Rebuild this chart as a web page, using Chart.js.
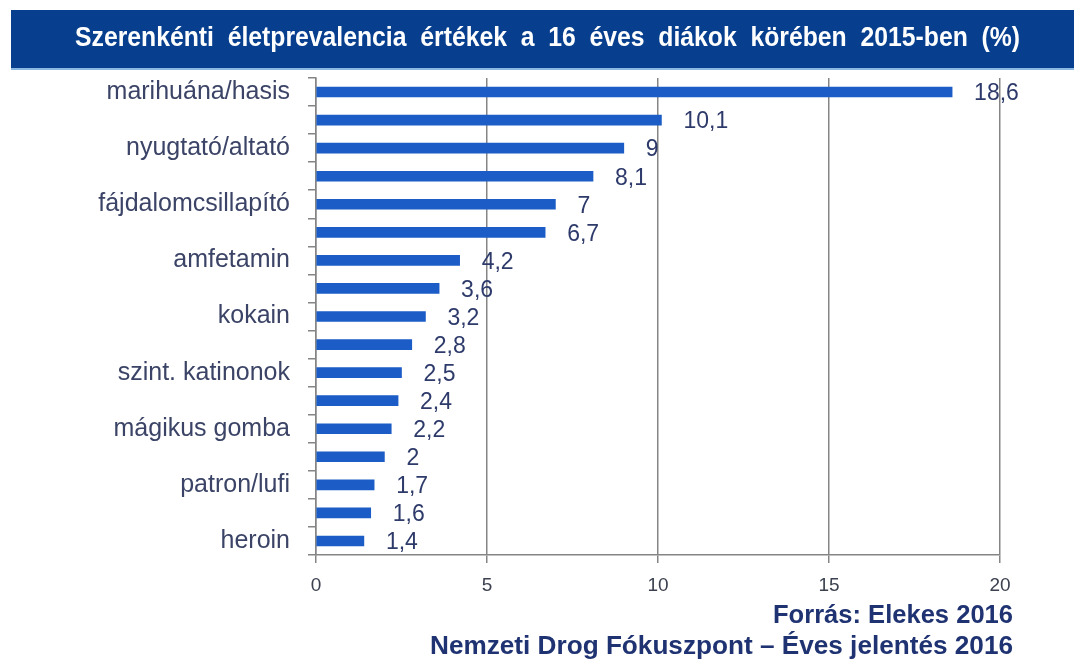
<!DOCTYPE html>
<html>
<head>
<meta charset="utf-8">
<script src="https://cdn.jsdelivr.net/npm/chart.js@4"></script>
<style>
  html, body { margin: 0; padding: 0; background: #fff; }
  #wrap { width: 1074px; height: 664px; position: relative; }
</style>
</head>
<body>
<div id="wrap"><canvas id="chart" width="1074" height="664"></canvas></div>
<script>
// data (every second label is not shown in the original)
const categories = [
    'marihuána/hasis', '', 'nyugtató/altató', '', 'fájdalomcsillapító', '',
    'amfetamin', '', 'kokain', '', 'szint. katinonok', '', 'mágikus gomba', '',
    'patron/lufi', '', 'heroin'
];
const values = [18.6, 10.1, 9, 8.1, 7, 6.7, 4.2, 3.6, 3.2, 2.8, 2.5, 2.4, 2.2, 2, 1.7, 1.6, 1.4];
const xTicks = [0, 5, 10, 15, 20];

const titleText = 'Szerenkénti  életprevalencia  értékek  a  16  éves  diákok  körében  2015-ben  (%)';
const sourceLines = ['Forrás: Elekes 2016', 'Nemzeti Drog Fókuszpont – Éves jelentés 2016'];

const FONT = 'Arial, "Liberation Sans", sans-serif';
const fmt = v => String(v).replace('.', ',');

// draw text squeezed/stretched horizontally to a given width
function fillFit(ctx, text, x, y, width, align) {
    const w = ctx.measureText(text).width;
    const k = width / w;
    ctx.save();
    ctx.translate(x, y);
    ctx.scale(k, 1);
    ctx.textAlign = align;
    ctx.fillText(text, 0, 0);
    ctx.restore();
}

const decorPlugin = {
    id: 'decor',
    beforeDraw(chart) {
        const ctx = chart.ctx;
        ctx.save();
        // title bar
        ctx.fillStyle = '#073f8e';
        ctx.fillRect(11, 10, chart.width - 11, 58);
        ctx.fillStyle = '#8bb8e3';
        ctx.fillRect(11, 68, chart.width - 11, 2);
        ctx.font = 'bold 27px ' + FONT;
        ctx.fillStyle = '#ffffff';
        ctx.textBaseline = 'middle';
        fillFit(ctx, titleText, 75, 39, 945, 'left');
        ctx.restore();
    },
    afterDatasetsDraw(chart) {
        const ctx = chart.ctx;
        const meta = chart.getDatasetMeta(0);
        ctx.save();
        ctx.font = '23px ' + FONT;
        ctx.fillStyle = '#2d3a6a';
        ctx.textAlign = 'left';
        ctx.textBaseline = 'middle';
        meta.data.forEach((bar, i) => {
            ctx.fillText(fmt(values[i]), bar.x + 22, bar.y + 2);
        });
        ctx.restore();
    },
    afterDraw(chart) {
        const ctx = chart.ctx;
        ctx.save();
        ctx.font = 'bold 25px ' + FONT;
        ctx.fillStyle = '#1f3372';
        ctx.textBaseline = 'middle';
        fillFit(ctx, sourceLines[0], 1013, 616, 240, 'right');
        fillFit(ctx, sourceLines[1], 1013, 647, 583, 'right');
        ctx.restore();
    }
};

new Chart(document.getElementById('chart').getContext('2d'), {
    type: 'bar',
    data: {
        labels: categories,
        datasets: [{
            data: values,
            backgroundColor: '#1b5cc6',
            barThickness: 10,
            borderWidth: 0
        }]
    },
    options: {
        indexAxis: 'y',
        responsive: false,
        animation: false,
        layout: { padding: { top: 78, left: 0, right: 74, bottom: 0 } },
        plugins: {
            legend: { display: false },
            tooltip: { enabled: false }
        },
        scales: {
            x: {
                min: 0,
                max: 20,
                afterFit: s => { s.height = 109; },
                afterBuildTicks: s => { s.ticks = xTicks.map(v => ({ value: v })); },
                ticks: {
                    color: '#3c4150',
                    font: { family: FONT, size: 19 },
                    padding: 11
                },
                grid: {
                    color: '#858585',
                    lineWidth: 1.5,
                    tickLength: 8,
                    drawOnChartArea: true
                },
                border: { color: '#858585', width: 1.5 }
            },
            y: {
                afterFit: s => { s.width = 316; },
                ticks: {
                    autoSkip: false,
                    color: '#3b4466',
                    font: { family: FONT, size: 25 },
                    padding: 18
                },
                grid: {
                    color: '#858585',
                    lineWidth: 1.5,
                    tickLength: 8,
                    drawOnChartArea: false,
                    offset: true
                },
                border: { color: '#858585', width: 1.5 }
            }
        }
    },
    plugins: [decorPlugin]
});
</script>
</body>
</html>
